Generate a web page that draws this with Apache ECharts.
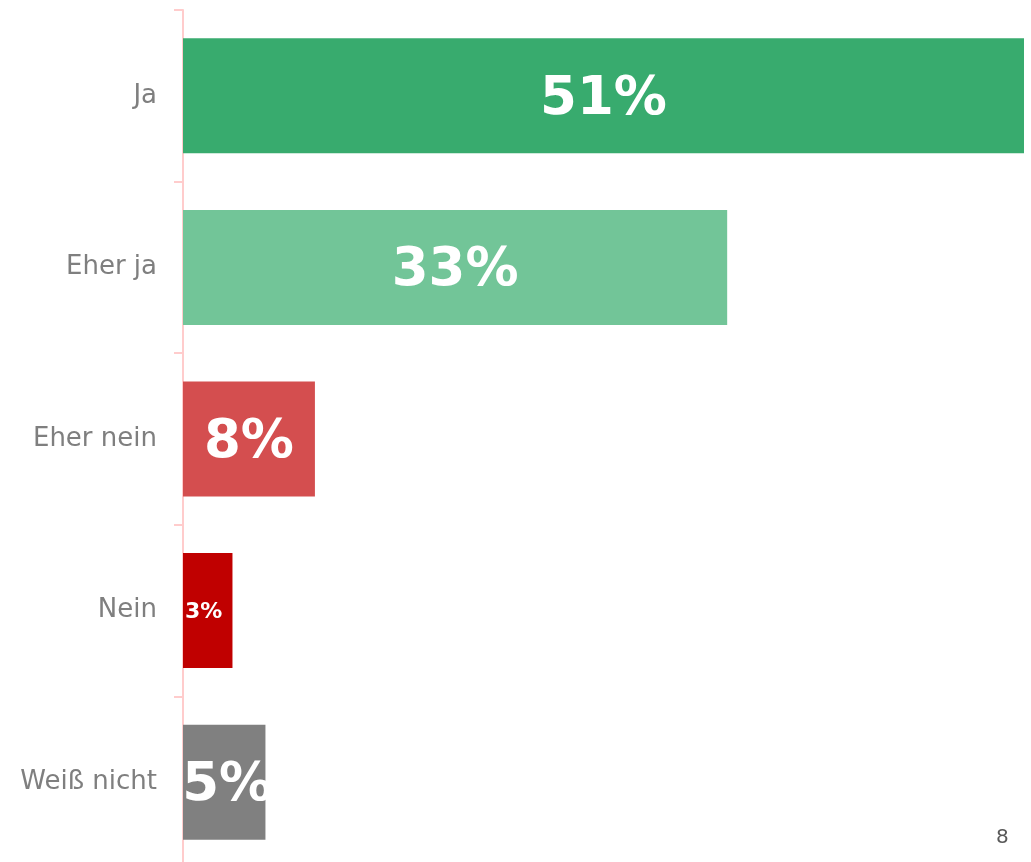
<!DOCTYPE html>
<html>
<head>
<meta charset="utf-8">
<script src="https://cdn.jsdelivr.net/npm/echarts@6/dist/echarts.min.js"></script>
<style>
  html, body { margin: 0; padding: 0; background: #ffffff; overflow: hidden; }
  #chart { width: 1031px; height: 868px; }
  #page { position: absolute; left: 996px; top: 824px; font: 20px "DejaVu Sans", sans-serif; color: #595959; }
</style>
</head>
<body>
<div id="chart"></div>
<div id="page">8</div>
<script>
// Answer categories, top to bottom
const categories = ['Ja', 'Eher ja', 'Eher nein', 'Nein', 'Weiß nicht'];
// Share of respondents in percent
const shares = [51, 33, 8, 3, 5];
// Bar colours per answer
const barColors = ['#38ab6e', '#72c598', '#d44e4f', '#c00000', '#808080'];
// Label font sizes per bar (the narrow "Nein" bar uses a smaller label)
const labelSizes = [53, 53, 53, 22, 53];

const chart = echarts.init(document.getElementById('chart'));

chart.setOption({
  animation: false,
  grid: { left: 183, right: 7, top: 10, bottom: 0, containLabel: false },
  xAxis: {
    type: 'value',
    min: 0,
    max: 51,
    show: false
  },
  yAxis: {
    type: 'category',
    inverse: true,
    data: categories,
    axisLine: { show: true, lineStyle: { color: '#ffcccc', width: 2 } },
    axisTick: { show: true, length: 9, lineStyle: { color: '#ffcccc', width: 2 } },
    axisLabel: {
      margin: 26,
      color: '#7f7f7f',
      fontSize: 26,
      fontFamily: 'DejaVu Sans'
    },
    splitLine: { show: false }
  },
  series: [{
    type: 'bar',
    barCategoryGap: '33%',
    data: shares.map((v, i) => ({
      value: v,
      itemStyle: { color: barColors[i] },
      label: {
        fontSize: labelSizes[i],
        offset: i === 3 ? [-4, 2] : (i === 4 ? [3, 4] : [0, 4])
      }
    })),
    label: {
      show: true,
      position: 'inside',
      color: '#ffffff',
      fontWeight: 'bold',
      fontFamily: 'DejaVu Sans',
      formatter: p => p.value + '%'
    }
  }]
});
</script>
</body>
</html>
